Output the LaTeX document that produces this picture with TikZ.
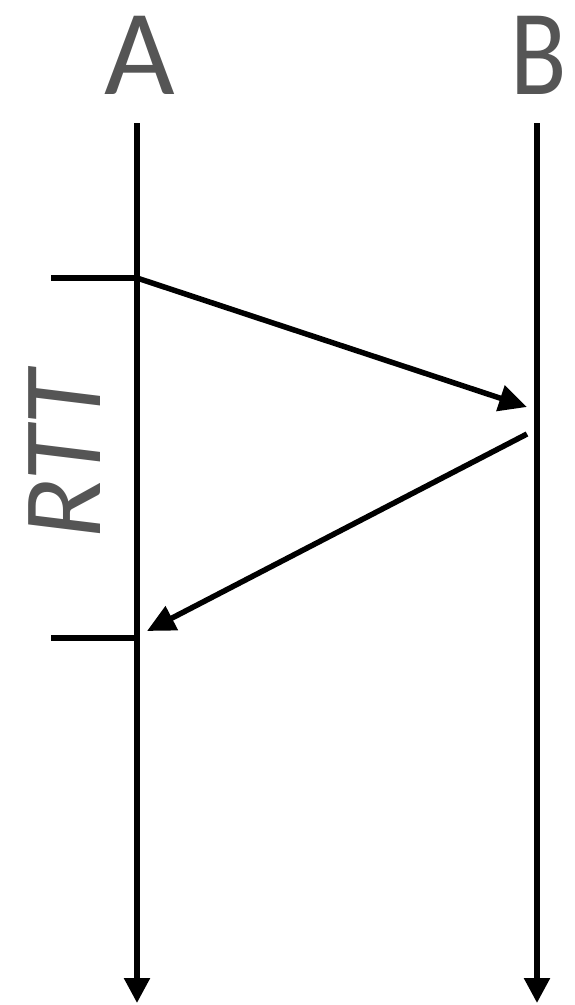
\documentclass[tikz,border=0pt]{standalone}
\usepackage{fontspec}
\setmainfont{Carlito}
\usepackage{xcolor}
\usetikzlibrary{arrows.meta,positioning,calc}
\definecolor{lblgray}{HTML}{555555}
\tikzset{
  peer/.style={font=\fontsize{122}{122}\selectfont,text=lblgray,anchor=base,inner sep=0pt},
  lifeline/.style={-{Triangle[length=25pt,width=25pt]},line width=5.5pt},
  tick/.style={line width=5.5pt},
  msg/.style={-{Triangle[length=28pt,width=26pt]},line width=5.5pt},
  rttlab/.style={font=\fontsize{112}{112}\selectfont\itshape,text=lblgray,anchor=base,rotate=90,inner sep=0pt}
}
\begin{document}
\begin{tikzpicture}[x=1pt,y=-1pt]
  \useasboundingbox (0,0) rectangle (574,1005);
  % peers
  \node[peer] (pA) at (140,94) {A};
  \node[peer,xscale=0.85] (pB) at (539,94) {B};
  \coordinate (topA) at (137,123);
  \coordinate (botA) at (137,1003);
  \coordinate (topB) at (537,123);
  \coordinate (botB) at (537,1003);
  \draw[lifeline] (topA) -- (botA);
  \draw[lifeline] (topB) -- (botB);
  % round trip
  \coordinate (send) at (137,278);
  \coordinate (recv) at (527,407);
  \coordinate (reply) at (527,434);
  \coordinate (back) at (147,631);
  \draw[msg] (send) -- (recv);
  \draw[msg] (reply) -- (back);
  % RTT marks
  \coordinate (t1) at (51,278);
  \coordinate (t1e) at (137,278);
  \coordinate (t2) at (51,638);
  \coordinate (t2e) at (137,638);
  \draw[tick] (t1) -- (t1e);
  \draw[tick] (t2) -- (t2e);
  \node[rttlab] (rtt) at (100,455) {RTT};
\end{tikzpicture}
\end{document}
